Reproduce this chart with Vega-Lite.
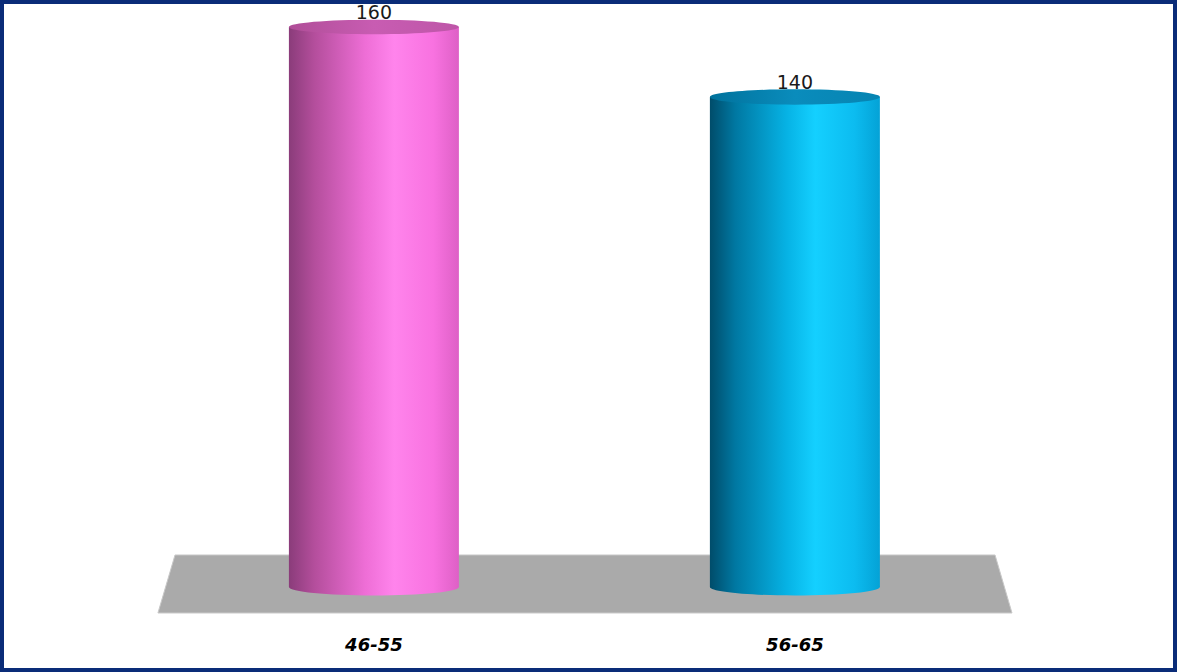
{
  "$schema": "https://vega.github.io/schema/vega-lite/v6.json",
  "width": 1177,
  "height": 672,
  "autosize": "none",
  "padding": 0,
  "background": "white",
  "config": {"view": {"stroke": "#0a2c78", "strokeWidth": 8}},
  "datasets": {
    "bars": [{"age": "46-55", "count": 160}, {"age": "56-65", "count": 140}],
    "floor": [{"fy": 9.14, "fx1": 14.87, "fx2": 84.54}, {"fy": -7.43, "fx1": 13.42, "fx2": 85.98}]
  },
  "resolve": {"scale": {"x": "independent"}, "axis": {"x": "independent"}},
  "layer": [
    {
      "data": {"name": "floor"},
      "mark": {"type": "area", "orient": "horizontal", "color": "#aaaaaa", "stroke": "#c8c8c8", "strokeWidth": 1},
      "encoding": {
        "y": {"field": "fy", "type": "quantitative", "scale": {"domain": [-24.29, 167.71]}, "axis": null},
        "x": {"field": "fx1", "type": "quantitative", "scale": {"domain": [0, 100]}, "axis": null},
        "x2": {"field": "fx2"}
      }
    },
    {
      "data": {"name": "bars"},
      "encoding": {
        "x": {"field": "age", "type": "nominal", "sort": null,
              "scale": {"paddingInner": 0.5962, "paddingOuter": 0.696, "align": 0.493},
              "axis": {"title": null, "domain": false, "ticks": false, "grid": false, "labelAngle": 0,
                       "labelFont": "DejaVu Sans", "labelFontWeight": "bold", "labelFontStyle": "italic",
                       "labelFontSize": 18, "labelColor": "#000000", "labelBaseline": "middle", "labelPadding": -27}},
        "y": {"field": "count", "type": "quantitative", "scale": {"domain": [-24.29, 167.71]}, "axis": null}
      },
      "layer": [
        {
          "transform": [{"filter": "datum.age === '46-55'"}],
          "mark": {"type": "bar", "color": {"gradient": "linear", "x1": 0, "x2": 1, "y1": 0, "y2": 0,
            "stops": [{"offset": 0, "color": "#8a3c7a"}, {"offset": 0.15, "color": "#b44e9c"}, {"offset": 0.45, "color": "#ee6ed6"}, {"offset": 0.62, "color": "#ff84ec"}, {"offset": 0.85, "color": "#f872e0"}, {"offset": 1, "color": "#de60c6"}]}}
        },
        {
          "transform": [{"filter": "datum.age === '46-55'"}],
          "mark": {"type": "point", "filled": true, "opacity": 1, "size": 28900, "strokeWidth": 0,
            "shape": "M-1,0A1,0.1,0,1,0,1,0A1,0.1,0,1,0,-1,0Z",
            "color": {"gradient": "linear", "x1": 0, "x2": 1, "y1": 0, "y2": 0,
            "stops": [{"offset": 0, "color": "#8a3c7a"}, {"offset": 0.15, "color": "#b44e9c"}, {"offset": 0.45, "color": "#ee6ed6"}, {"offset": 0.62, "color": "#ff84ec"}, {"offset": 0.85, "color": "#f872e0"}, {"offset": 1, "color": "#de60c6"}]}},
          "encoding": {"y": {"datum": 0, "type": "quantitative"}}
        },
        {
          "transform": [{"filter": "datum.age === '46-55'"}],
          "mark": {"type": "point", "filled": true, "opacity": 1, "size": 28900, "strokeWidth": 0,
            "shape": "M-1,0A1,0.085,0,1,0,1,0A1,0.085,0,1,0,-1,0Z",
            "color": {"gradient": "linear", "x1": 0, "x2": 1, "y1": 0, "y2": 0,
            "stops": [{"offset": 0, "color": "#b04e98"}, {"offset": 0.5, "color": "#c85cb2"}, {"offset": 1, "color": "#be56a8"}]}}
        },
        {
          "transform": [{"filter": "datum.age === '56-65'"}],
          "mark": {"type": "bar", "color": {"gradient": "linear", "x1": 0, "x2": 1, "y1": 0, "y2": 0,
            "stops": [{"offset": 0, "color": "#004c6a"}, {"offset": 0.15, "color": "#0078a2"}, {"offset": 0.45, "color": "#06b2e4"}, {"offset": 0.62, "color": "#14d0ff"}, {"offset": 0.85, "color": "#0cbcf0"}, {"offset": 1, "color": "#04a2d6"}]}}
        },
        {
          "transform": [{"filter": "datum.age === '56-65'"}],
          "mark": {"type": "point", "filled": true, "opacity": 1, "size": 28900, "strokeWidth": 0,
            "shape": "M-1,0A1,0.1,0,1,0,1,0A1,0.1,0,1,0,-1,0Z",
            "color": {"gradient": "linear", "x1": 0, "x2": 1, "y1": 0, "y2": 0,
            "stops": [{"offset": 0, "color": "#004c6a"}, {"offset": 0.15, "color": "#0078a2"}, {"offset": 0.45, "color": "#06b2e4"}, {"offset": 0.62, "color": "#14d0ff"}, {"offset": 0.85, "color": "#0cbcf0"}, {"offset": 1, "color": "#04a2d6"}]}},
          "encoding": {"y": {"datum": 0, "type": "quantitative"}}
        },
        {
          "transform": [{"filter": "datum.age === '56-65'"}],
          "mark": {"type": "point", "filled": true, "opacity": 1, "size": 28900, "strokeWidth": 0,
            "shape": "M-1,0A1,0.09,0,1,0,1,0A1,0.09,0,1,0,-1,0Z",
            "color": {"gradient": "linear", "x1": 0, "x2": 1, "y1": 0, "y2": 0,
            "stops": [{"offset": 0, "color": "#00729c"}, {"offset": 0.5, "color": "#0a8cbc"}, {"offset": 1, "color": "#0684b2"}]}}
        },
        {
          "mark": {"type": "text", "font": "DejaVu Sans", "fontSize": 19, "color": "#1a1a1a", "baseline": "alphabetic", "dy": -8},
          "encoding": {"text": {"field": "count", "type": "quantitative"}}
        }
      ]
    }
  ]
}
